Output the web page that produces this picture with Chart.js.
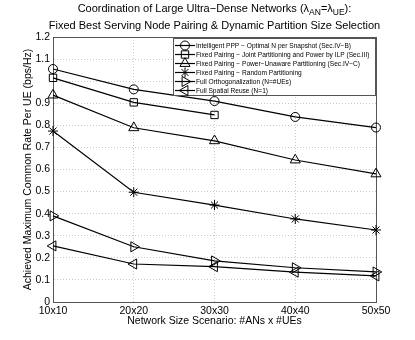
<!DOCTYPE html>
<html>
<head>
<meta charset="utf-8">
<script src="https://cdn.jsdelivr.net/npm/chart.js@4/dist/chart.umd.min.js"></script>
<style>
html,body{margin:0;padding:0;background:#fff;}
#wrap{width:415px;height:340px;}
</style>
</head>
<body>
<div id="wrap"><canvas id="c" width="415" height="340"></canvas></div>
<script>
const categories = ['10x10', '20x20', '30x30', '40x40', '50x50'];
const yTickValues = [0, 0.1, 0.2, 0.3, 0.4, 0.5, 0.6, 0.7, 0.8, 0.9, 1.0, 1.1, 1.2];
const yTickLabels = ['0', '0.1', '0.2', '0.3', '0.4', '0.5', '0.6', '0.7', '0.8', '0.9', '', '1.1', '1.2'];

const seriesNames = [
  'Intelligent PPP \u2212 Optimal N per Snapshot (Sec.IV\u2212B)',
  'Fixed Pairing \u2212 Joint Partitioning and Power by ILP (Sec.III)',
  'Fixed Pairing \u2212 Power\u2212Unaware Partitioning (Sec.IV\u2212C)',
  'Fixed Pairing \u2212 Random Partitioning',
  'Full Orthogonalization (N=#UEs)',
  'Full Spatial Reuse (N=1)'
];
const intelligentPPP = [1.055, 0.963, 0.910, 0.838, 0.790];
const jointILP = [1.015, 0.904, 0.847, null, null];
const powerUnaware = [0.937, 0.789, 0.730, 0.643, 0.580];
const randomPartitioning = [0.774, 0.497, 0.439, 0.376, 0.326];
const fullOrthogonalization = [0.390, 0.250, 0.186, 0.155, 0.136];
const fullSpatialReuse = [0.254, 0.172, 0.160, 0.135, 0.118];

const titleLine1 = ['Coordination of Large Ultra\u2212Dense Networks (\u03bb', 'AN', '=\u03bb', 'UE', '):'];
const titleLine2 = 'Fixed Best Serving Node Pairing & Dynamic Partition Size Selection';
const xTitle = 'Network Size Scenario: #ANs x #UEs';
const yTitle = 'Achieved Maximum Common Rate Per UE (bps/Hz)';

const FONT = "'Liberation Sans', Arial, Helvetica, sans-serif";

const styles = [
  {pointStyle: 'circle', radius: 4.5, rotation: 0},
  {pointStyle: 'rect', radius: 5.2, rotation: 0},
  {pointStyle: 'triangle', radius: 5.8, rotation: 0},
  {pointStyle: 'star', radius: 5, rotation: 0},
  {pointStyle: 'triangle', radius: 5.8, rotation: 90},
  {pointStyle: 'triangle', radius: 5.8, rotation: -90}
];
const allData = [intelligentPPP, jointILP, powerUnaware, randomPartitioning, fullOrthogonalization, fullSpatialReuse];

const datasets = allData.map((d, i) => ({
  label: seriesNames[i],
  data: d,
  borderColor: '#000',
  borderWidth: 1.2,
  backgroundColor: 'rgba(0,0,0,0)',
  pointStyle: styles[i].pointStyle,
  pointRadius: styles[i].radius,
  pointRotation: styles[i].rotation,
  pointBorderColor: '#000',
  pointBackgroundColor: 'rgba(0,0,0,0)',
  pointBorderWidth: 1,
  tension: 0,
  clip: false,
  spanGaps: false
}));

const boxPlugin = {
  id: 'box',
  beforeDatasetsDraw(chart) {
    const a = chart.chartArea, ctx = chart.ctx;
    ctx.save();
    ctx.strokeStyle = '#555';
    ctx.lineWidth = 1;
    ctx.strokeRect(Math.round(a.left) + 0.5, Math.round(a.top) + 0.5, Math.round(a.right - a.left), Math.round(a.bottom - a.top));
    ctx.restore();
  }
};

const titlePlugin = {
  id: 'mtitle',
  afterDraw(chart) {
    const ctx = chart.ctx, a = chart.chartArea;
    const cx = (a.left + a.right) / 2;
    ctx.save();
    ctx.fillStyle = '#000';
    ctx.textBaseline = 'alphabetic';
    const main = '11px ' + FONT, sub = '8.5px ' + FONT;
    let w = 0;
    titleLine1.forEach((t, i) => { ctx.font = (i % 2 === 1) ? sub : main; w += ctx.measureText(t).width; });
    let x = cx - w / 2;
    ctx.textAlign = 'left';
    titleLine1.forEach((t, i) => {
      const isSub = i % 2 === 1;
      ctx.font = isSub ? sub : main;
      ctx.fillText(t, x, isSub ? 15 : 12);
      x += ctx.measureText(t).width;
    });
    ctx.font = main;
    ctx.textAlign = 'center';
    ctx.fillText(titleLine2, cx, 29);
    ctx.restore();
  }
};

const legendPlugin = {
  id: 'mlegend',
  afterDatasetsDraw(chart) {
    const ctx = chart.ctx;
    const x0 = 173.5, y0 = 38.5, x1 = 375.5, y1 = 95.5;
    ctx.save();
    ctx.fillStyle = '#fff';
    ctx.fillRect(x0, y0, x1 - x0, y1 - y0);
    ctx.strokeStyle = '#555';
    ctx.lineWidth = 1;
    ctx.strokeRect(x0, y0, x1 - x0, y1 - y0);
    ctx.font = '6.6px ' + FONT;
    ctx.textBaseline = 'middle';
    ctx.textAlign = 'left';
    chart.data.datasets.forEach((ds, i) => {
      const y = 45.5 + i * 9;
      ctx.strokeStyle = '#000';
      ctx.lineWidth = 1.2;
      ctx.beginPath();
      ctx.moveTo(175, y);
      ctx.lineTo(195, y);
      ctx.stroke();
      ctx.lineWidth = 1;
      ctx.fillStyle = 'rgba(0,0,0,0)';
      Chart.helpers.drawPoint(ctx, {pointStyle: ds.pointStyle, radius: ds.pointRadius, rotation: ds.pointRotation, borderWidth: 1}, 185, y);
      ctx.fillStyle = '#000';
      ctx.fillText(ds.label, 196, y + 0.5);
    });
    ctx.restore();
  }
};

new Chart(document.getElementById('c'), {
  type: 'line',
  data: {labels: categories, datasets: datasets},
  plugins: [boxPlugin, legendPlugin, titlePlugin],
  options: {
    responsive: false,
    animation: false,
    layout: {padding: {left: 0, right: 39, top: 37, bottom: 13}},
    plugins: {legend: {display: false}, title: {display: false}, tooltip: {enabled: false}},
    scales: {
      x: {
        type: 'category',
        offset: false,
        afterFit: s => { s.height = 25; },
        grid: {color: '#c8c8c8', drawTicks: false, lineWidth: 1},
        border: {display: true, color: '#555', dash: [1, 2]},
        ticks: {color: '#000', font: {family: FONT, size: 10.5}, padding: 3, maxRotation: 0, autoSkip: false},
        title: {display: true, text: xTitle, color: '#000', font: {family: FONT, size: 10.5}, padding: {top: 0, bottom: 0}}
      },
      y: {
        type: 'linear',
        min: 0,
        max: 1.2,
        afterFit: s => { s.width = 53; },
        afterBuildTicks: s => { s.ticks = yTickValues.map(v => ({value: v})); },
        grid: {color: '#c8c8c8', drawTicks: false, lineWidth: 1},
        border: {display: true, color: '#555', dash: [1, 2]},
        ticks: {
          color: '#000', font: {family: FONT, size: 10.5}, padding: 3,
          callback: (v) => { const k = yTickValues.findIndex(t => Math.abs(t - v) < 1e-9); return k >= 0 ? yTickLabels[k] : ''; }
        },
        title: {display: true, text: yTitle, color: '#000', font: {family: FONT, size: 10.5}, padding: {top: 22, bottom: 0}}
      }
    }
  }
});
</script>
</body>
</html>
